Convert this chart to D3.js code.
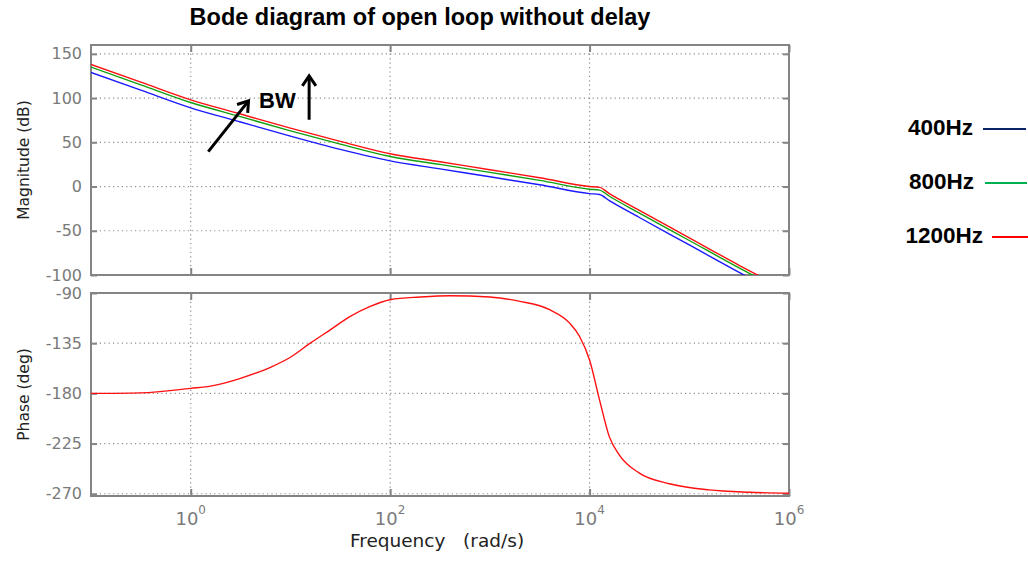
<!DOCTYPE html>
<html>
<head>
<meta charset="utf-8">
<script src="https://cdn.jsdelivr.net/npm/d3@7"></script>
<style>
body { margin: 0; background: #fff; }
svg { display: block; }
</style>
</head>
<body>
<div id="chart"></div>
<script>
// magnitude data (rad/s, dB)
const magFreq = [0.1, 0.316, 1, 3.16, 10, 31.6, 100, 316, 1000, 3160, 10000, 12600, 15800, 31600, 100000, 316000, 562000];
const mag1200 = [138, 118, 98, 82, 66, 51, 37, 28, 19, 10, 0, -1, -8, -27, -58, -89, -104];
const mag800 = [135, 115, 95, 79, 63, 48, 34, 25, 16, 7, -3, -4, -11, -30, -61, -92, -107];
const mag400 = [129, 109, 89, 73, 57, 42, 29, 20, 11, 2, -8, -9, -16, -35, -66, -97, -112];

// phase data (rad/s, deg)
const phaseFreq = [0.1, 0.316, 1, 1.58, 3.16, 6.31, 10, 15.8, 25.1, 39.8, 63.1, 100, 200, 398, 1000, 2000, 3980, 6310, 7940, 10000, 12600, 15800, 20000, 31600, 63100, 158000, 398000, 1000000];
const phaseDeg = [-180, -179.5, -175.5, -173.5, -166.5, -156.6, -147.6, -135, -123, -111, -102, -96, -93.6, -92.4, -93.6, -97.5, -105, -117, -129, -150, -186, -219, -235.5, -251.5, -261, -266.5, -268.6, -269.5];

const magTicks = [150, 100, 50, 0, -50, -100];
const phaseTicks = [-90, -135, -180, -225, -270];
const decadeTicks = [1, 100, 10000, 1000000];
const decadeExp = ["0", "2", "4", "6"];

const legendNames = ["400Hz", "800Hz", "1200Hz"];
const legendColors = ["#0c2466", "#00b050", "#ff0000"];
const lineColors = ["#1a1aff", "#10a010", "#ff1010"];

const width = 1028, height = 561;
const left = 91, right = 789;
const magTop = 45, magBottom = 275;
const phTop = 293, phBottom = 496;

const svg = d3.select("#chart").append("svg").attr("width", width).attr("height", height);
svg.append("rect").attr("width", width).attr("height", height).attr("fill", "#fff");

const x = d3.scaleLog().domain([0.1, 1e6]).range([left, right]);
const yMag = d3.scaleLinear().domain([-100, 160]).range([magBottom, magTop]);
const yPh = d3.scaleLinear().domain([-272, -90]).range([phBottom, phTop]);

const gridColor = "#8c8c8c";
const frameColor = "#848484";
const tickText = "#7a7a7a";

function panel(y, ticks, top, bottom) {
    const g = svg.append("g");
    // dotted grid
    g.selectAll(".hg").data(ticks).enter().append("line")
        .attr("x1", left).attr("x2", right)
        .attr("y1", d => y(d)).attr("y2", d => y(d))
        .attr("stroke", gridColor).attr("stroke-width", 1.2).attr("stroke-dasharray", "1.2,3.2");
    g.selectAll(".vg").data([1, 100, 10000]).enter().append("line")
        .attr("x1", d => x(d)).attr("x2", d => x(d))
        .attr("y1", top).attr("y2", bottom)
        .attr("stroke", gridColor).attr("stroke-width", 1.2).attr("stroke-dasharray", "1.2,3.2");

    // axes with inward ticks, plain hyphen for negatives
    const la = g.append("g").attr("transform", `translate(${left},0)`)
        .call(d3.axisLeft(y).tickValues(ticks).tickSize(-6).tickPadding(9).tickFormat(d => String(d)));
    const ra = g.append("g").attr("transform", `translate(${right},0)`)
        .call(d3.axisRight(y).tickValues(ticks).tickSize(-6).tickFormat(""));
    const ba = g.append("g").attr("transform", `translate(0,${bottom})`)
        .call(d3.axisBottom(x).tickValues(decadeTicks).tickSize(-7).tickFormat(""));
    const ta = g.append("g").attr("transform", `translate(0,${top})`)
        .call(d3.axisTop(x).tickValues(decadeTicks).tickSize(-7).tickFormat(""));
    [la, ra, ba, ta].forEach(a => {
        a.select(".domain").remove();
        a.selectAll("line").attr("stroke", frameColor).attr("stroke-width", 2);
    });
    la.selectAll("text").attr("fill", tickText)
        .style("font-family", "DejaVu Sans").style("font-size", "16px");

    g.append("rect").attr("x", left).attr("y", top)
        .attr("width", right - left).attr("height", bottom - top)
        .attr("fill", "none").attr("stroke", frameColor).attr("stroke-width", 2);
    return g;
}

panel(yMag, magTicks, magTop, magBottom);
panel(yPh, phaseTicks, phTop, phBottom);

// clip magnitude lines to the plot box
svg.append("clipPath").attr("id", "magClip").append("rect")
    .attr("x", left).attr("y", magTop).attr("width", right - left).attr("height", magBottom - magTop);

const magLine = d3.line().x(d => x(d[0])).y(d => yMag(d[1])).curve(d3.curveMonotoneX);
const magSeries = [mag400, mag800, mag1200];
const mg = svg.append("g").attr("clip-path", "url(#magClip)");
magSeries.forEach((s, i) => {
    mg.append("path")
        .datum(magFreq.map((f, j) => [f, s[j]]))
        .attr("d", magLine)
        .attr("fill", "none").attr("stroke", lineColors[i]).attr("stroke-width", 1.4);
});

const phLine = d3.line().x(d => x(d[0])).y(d => yPh(d[1])).curve(d3.curveMonotoneX);
svg.append("path")
    .datum(phaseFreq.map((f, j) => [f, phaseDeg[j]]))
    .attr("d", phLine)
    .attr("fill", "none").attr("stroke", "#ff1010").attr("stroke-width", 1.4);

// x tick labels 10^n
const xl = svg.append("g").selectAll("text").data(decadeTicks).enter().append("text")
    .attr("x", d => x(d)).attr("y", 525)
    .attr("text-anchor", "middle").attr("fill", tickText)
    .style("font-family", "DejaVu Sans").style("font-size", "18px");
xl.append("tspan").text("10");
xl.append("tspan").attr("dy", -11).style("font-size", "12px").text((d, i) => decadeExp[i]);

// axis titles
svg.append("text").attr("transform", `translate(24,${(magTop + magBottom) / 2}) rotate(-90)`)
    .attr("text-anchor", "middle").attr("dominant-baseline", "central")
    .attr("fill", "#222").style("font-family", "DejaVu Sans").style("font-size", "15.5px")
    .text("Magnitude (dB)");
svg.append("text").attr("transform", `translate(24,${(phTop + phBottom) / 2}) rotate(-90)`)
    .attr("text-anchor", "middle").attr("dominant-baseline", "central")
    .attr("fill", "#222").style("font-family", "DejaVu Sans").style("font-size", "15.5px")
    .text("Phase (deg)");
svg.append("text").attr("x", 437).attr("y", 547).attr("text-anchor", "middle")
    .attr("fill", "#222").style("font-family", "DejaVu Sans").style("font-size", "18.5px")
    .style("white-space", "pre")
    .text("Frequency   (rad/s)");

// title
svg.append("text").attr("x", 420).attr("y", 25).attr("text-anchor", "middle")
    .style("font-family", "Liberation Sans, Arial").style("font-weight", "bold").style("font-size", "23.5px")
    .text("Bode diagram of open loop without delay");

// legend
const legendY = [135, 189, 243];
const legendTextRight = [973, 974, 983];
const legendLineX = [[983, 1026], [985, 1027], [992, 1028]];
legendNames.forEach((n, i) => {
    svg.append("text").attr("x", legendTextRight[i]).attr("y", legendY[i]).attr("text-anchor", "end")
        .style("font-family", "Liberation Sans, Arial").style("font-weight", "bold").style("font-size", "22.5px")
        .text(n);
    svg.append("line").attr("x1", legendLineX[i][0]).attr("x2", legendLineX[i][1])
        .attr("y1", legendY[i] - 6).attr("y2", legendY[i] - 6)
        .attr("stroke", legendColors[i]).attr("stroke-width", 2);
});

// BW annotation, placed in data coordinates
function arrow(f0, v0, f1, v1) {
    const x0 = x(f0), y0 = yMag(v0), x1 = x(f1), y1 = yMag(v1);
    const a = Math.atan2(y1 - y0, x1 - x0);
    const L = 12, w = 0.6;
    svg.append("line").attr("x1", x0).attr("y1", y0).attr("x2", x1).attr("y2", y1)
        .attr("stroke", "#000").attr("stroke-width", 3);
    svg.append("polyline")
        .attr("points", [
            [x1 - L * Math.cos(a - w), y1 - L * Math.sin(a - w)],
            [x1, y1],
            [x1 - L * Math.cos(a + w), y1 - L * Math.sin(a + w)]
        ].map(p => p.join(",")).join(" "))
        .attr("fill", "none").attr("stroke", "#000").attr("stroke-width", 3)
        .attr("stroke-linejoin", "miter");
}
arrow(1.5, 39.5, 3.8, 96.8);
arrow(15.4, 75.5, 15.4, 125);
svg.append("text").attr("x", x(4.84)).attr("y", yMag(89))
    .style("font-family", "Liberation Sans, Arial").style("font-weight", "bold").style("font-size", "22px")
    .text("BW");
</script>
</body>
</html>
